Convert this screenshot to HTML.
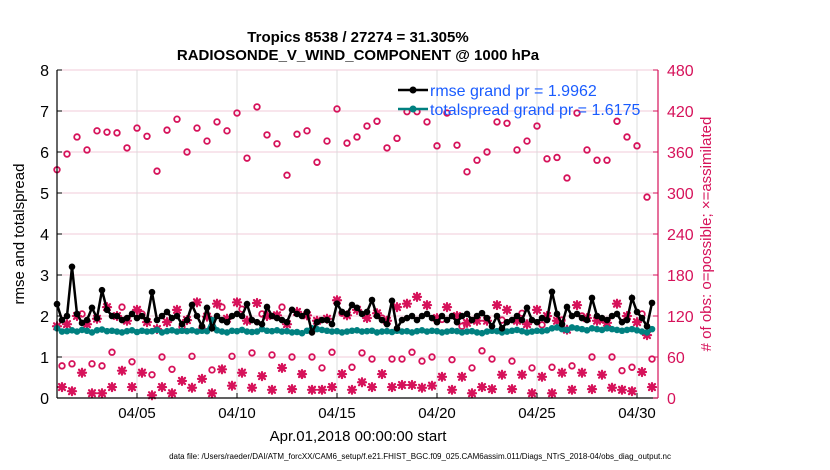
<!DOCTYPE html>
<html><head><meta charset="utf-8"><style>
body{margin:0;background:#fff;}
svg{display:block;font-family:"Liberation Sans",Arial,sans-serif;}
</style></head><body>
<svg id="chart" width="830" height="470">
<g id="grid"></g>
<g id="marks"></g>
<g id="axes"></g>
<text x="358" y="42" text-anchor="middle" font-size="15" font-weight="bold">Tropics 8538 / 27274 = 31.305%</text>
<text x="358" y="60" text-anchor="middle" font-size="15" font-weight="bold">RADIOSONDE_V_WIND_COMPONENT @ 1000 hPa</text>
<text x="358" y="441" text-anchor="middle" font-size="15">Apr.01,2018 00:00:00 start</text>
<text x="420" y="459" text-anchor="middle" font-size="8">data file: /Users/raeder/DAI/ATM_forcXX/CAM6_setup/f.e21.FHIST_BGC.f09_025.CAM6assim.011/Diags_NTrS_2018-04/obs_diag_output.nc</text>
<text transform="translate(24,234) rotate(-90)" text-anchor="middle" font-size="15">rmse and totalspread</text>
<text transform="translate(711,234) rotate(-90)" text-anchor="middle" font-size="15" fill="#d6125a"># of obs: o=possible; ×=assimilated</text>
<g>
<line x1="398" y1="90" x2="428" y2="90" stroke="#000" stroke-width="2.5"/>
<circle cx="413" cy="90" r="3.5" fill="#000"/>
<text x="430" y="96" font-size="16" fill="#1a5cff">rmse grand pr = 1.9962</text>
<line x1="398" y1="109" x2="428" y2="109" stroke="#008080" stroke-width="2.5"/>
<circle cx="413" cy="109" r="3.5" fill="#008080"/>
<text x="430" y="115" font-size="16" fill="#1a5cff">totalspread grand pr = 1.6175</text>
</g>
</svg>
<script>
const rmse=[2.29,1.9,2.0,3.2,2.05,1.83,1.9,2.2,1.95,2.63,2.15,2.0,2.0,1.9,1.95,2.05,1.95,2.0,1.9,2.58,1.9,2.0,2.1,1.95,2.0,1.8,1.9,2.27,2.0,1.75,2.2,1.7,2.0,1.9,1.85,2.0,2.05,2.0,2.29,1.9,1.85,1.8,2.22,2.0,1.95,1.9,1.85,2.15,2.05,2.0,2.1,1.6,1.85,1.9,1.9,1.8,2.3,2.1,2.05,2.27,2.2,2.05,2.1,2.39,2.0,1.9,1.8,2.37,1.7,1.9,1.95,2.0,1.9,2.0,2.05,1.95,1.85,2.0,1.9,2.0,1.85,2.0,2.05,1.9,2.0,2.07,1.95,1.75,2.0,1.7,1.85,1.9,2.0,1.9,2.2,1.9,1.85,1.95,1.9,2.59,2.05,1.8,2.22,2.0,2.05,1.95,1.9,2.44,2.0,1.95,1.9,2.0,2.05,1.85,1.9,2.44,2.1,1.95,1.75,2.32];
const spread=[1.7,1.62,1.63,1.65,1.62,1.66,1.64,1.6,1.65,1.67,1.63,1.64,1.62,1.6,1.63,1.65,1.61,1.64,1.62,1.63,1.66,1.6,1.63,1.65,1.62,1.64,1.63,1.65,1.62,1.64,1.63,1.9,1.65,1.62,1.6,1.64,1.63,1.66,1.62,1.61,1.62,1.68,1.64,1.63,1.65,1.62,1.63,1.6,1.61,1.58,1.64,1.7,1.68,1.66,1.64,1.62,1.63,1.6,1.62,1.64,1.65,1.62,1.63,1.64,1.6,1.62,1.63,1.61,1.64,1.62,1.63,1.6,1.63,1.65,1.62,1.64,1.63,1.6,1.62,1.64,1.63,1.6,1.62,1.63,1.6,1.58,1.62,1.64,1.63,1.6,1.62,1.64,1.66,1.63,1.6,1.62,1.64,1.63,1.65,1.7,1.72,1.68,1.66,1.72,1.7,1.68,1.65,1.7,1.68,1.66,1.7,1.68,1.66,1.64,1.66,1.68,1.65,1.62,1.6,1.68];
const possibleEven=[334,357,382,363,391,389,388,366,395,383,332,392,408,360,395,376,404,391,417,351,426,385,372,326,386,391,345,376,423,373,382,398,405,366,380,419,419,404,369,417,370,331,348,360,404,402,363,376,398,350,352,322,417,363,348,348,405,382,369,294];
const possibleOdd=[47,50,123,50,47,67,133,53,123,34,60,42,104,61,102,41,133,61,130,66,123,63,133,60,35,60,44,67,124,45,66,57,117,57,57,67,54,60,115,56,105,44,69,57,114,54,124,44,107,45,114,47,120,60,115,60,40,45,123,57];
const assimEven=[105,108,120,108,116,133,120,113,129,111,101,111,129,114,140,119,138,116,140,113,139,120,121,108,126,121,113,116,143,121,129,117,124,113,133,138,148,136,117,133,120,110,113,113,136,129,113,108,129,120,113,100,136,117,113,110,138,120,111,92];
const assimOdd=[16,10,37,7,7,16,40,16,37,4,16,7,25,15,28,7,42,18,37,15,32,12,44,13,35,12,12,16,35,12,23,16,35,16,19,19,15,18,31,12,31,7,16,13,34,13,34,7,31,7,37,12,37,13,34,15,12,10,38,16];
const xTicks=["04/05","04/10","04/15","04/20","04/25","04/30"];
const xTickDays=[4,9,14,19,24,29];
const yTicks=[0,1,2,3,4,5,6,7,8];
const y2Ticks=[0,60,120,180,240,300,360,420,480];

const L=57,R=658,T=70,B=398;
const NS="http://www.w3.org/2000/svg";
const xS=i=>L+5*i;
const xD=d=>L+20*d;
const yS=v=>B-(v/8)*(B-T);
const y2S=v=>B-(v/480)*(B-T);
const C="#d6125a";
function mk(tag,attrs,parent){const e=document.createElementNS(NS,tag);for(const k in attrs)e.setAttribute(k,attrs[k]);parent.appendChild(e);return e;}
const grid=document.getElementById('grid'),marks=document.getElementById('marks'),axes=document.getElementById('axes');
yTicks.forEach(v=>{const l=mk('line',{x1:L,x2:R,y1:yS(v),y2:yS(v),stroke:'#f0cbd8','stroke-width':1},grid);

});
xTickDays.forEach(d=>{const l=mk('line',{x1:xD(d),x2:xD(d),y1:T,y2:B,stroke:'#dcdcdc','stroke-width':1},grid);

});
possibleEven.forEach((v,k)=>{const c=mk('circle',{cx:xS(2*k),cy:y2S(v),r:2.8,fill:'none',stroke:C,'stroke-width':1.8},marks);

});
possibleOdd.forEach((v,k)=>{const c=mk('circle',{cx:xS(2*k+1),cy:y2S(v),r:2.8,fill:'none',stroke:C,'stroke-width':1.8},marks);

});
function star(x,y){const g=mk('g',{stroke:C,'stroke-width':2.2,'stroke-linecap':'round'},marks);


const s=4;mk('line',{x1:x-s,y1:y,x2:x+s,y2:y},g);mk('line',{x1:x,y1:y-s,x2:x,y2:y+s},g);
mk('line',{x1:x-3,y1:y-3,x2:x+3,y2:y+3},g);mk('line',{x1:x-3,y1:y+3,x2:x+3,y2:y-3},g);}
assimEven.forEach((v,k)=>star(xS(2*k),y2S(v)));
assimOdd.forEach((v,k)=>star(xS(2*k+1),y2S(v)));
const sp=mk('polyline',{points:spread.map((v,i)=>xS(i)+','+yS(v)).join(' '),fill:'none',stroke:'#008080','stroke-width':2.5},marks);


spread.forEach((v,i)=>{const c=mk('circle',{cx:xS(i),cy:yS(v),r:3.3,fill:'#008080'},marks);

});
const rl=mk('polyline',{points:rmse.map((v,i)=>xS(i)+','+yS(v)).join(' '),fill:'none',stroke:'#000','stroke-width':2.5},marks);


rmse.forEach((v,i)=>{const c=mk('circle',{cx:xS(i),cy:yS(v),r:3.3,fill:'#000'},marks);

});
const la=mk('line',{x1:L,x2:L,y1:T,y2:B,stroke:'#000','stroke-width':1.2},axes);


const ba=mk('line',{x1:L,x2:R,y1:B,y2:B,stroke:'#000','stroke-width':1.2},axes);


const ra=mk('line',{x1:R,x2:R,y1:T,y2:B,stroke:C,'stroke-width':1.2},axes);


yTicks.forEach(v=>{mk('line',{x1:L,x2:L+5,y1:yS(v),y2:yS(v),stroke:'#000'},axes);
const t=mk('text',{x:L-8,y:yS(v)+6,'text-anchor':'end','font-size':16},axes);t.textContent=v;

});
y2Ticks.forEach(v=>{mk('line',{x1:R-5,x2:R,y1:y2S(v),y2:y2S(v),stroke:C},axes);
const t=mk('text',{x:R+9,y:y2S(v)+6,'font-size':16,fill:C},axes);t.textContent=v;

});
xTickDays.forEach((d,k)=>{mk('line',{x1:xD(d),x2:xD(d),y1:B-5,y2:B,stroke:'#000'},axes);
const t=mk('text',{x:xD(d),y:B+20,'text-anchor':'middle','font-size':15},axes);t.textContent=xTicks[k];

});
</script>
</body></html>
